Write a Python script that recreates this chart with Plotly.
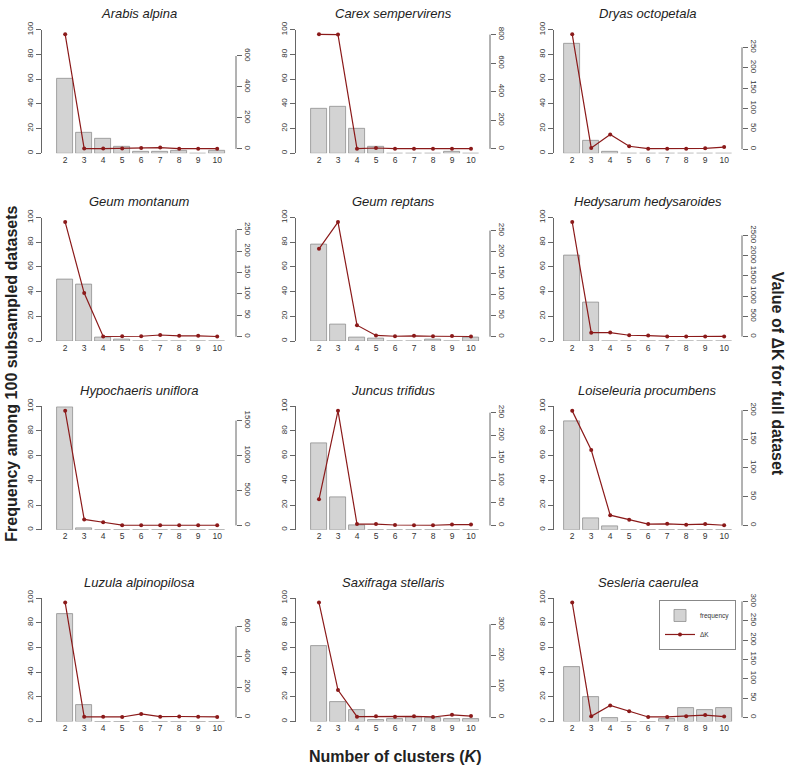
import plotly.graph_objects as go

# number of clusters
K = [2, 3, 4, 5, 6, 7, 8, 9, 10]

species = [
    "Arabis alpina", "Carex sempervirens", "Dryas octopetala",
    "Geum montanum", "Geum reptans", "Hedysarum hedysaroides",
    "Hypochaeris uniflora", "Juncus trifidus", "Loiseleuria procumbens",
    "Luzula alpinopilosa", "Saxifraga stellaris", "Sesleria caerulea",
]

# frequency among 100 subsampled datasets
freq_arabis = [60, 17, 12, 5, 1, 1, 2, 0, 2]
freq_carex = [36, 38, 20, 5, 0, 0, 0, 1, 0]
freq_dryas = [89, 10, 1, 0, 0, 0, 0, 0, 0]
freq_geum_mont = [50, 46, 3, 1, 0, 0, 0, 0, 0]
freq_geum_rept = [78, 13, 3, 2, 0, 0, 1, 0, 3]
freq_hedysarum = [69, 31, 0, 0, 0, 0, 0, 0, 0]
freq_hypochaeris = [99, 1, 0, 0, 0, 0, 0, 0, 0]
freq_juncus = [70, 26, 4, 0, 0, 0, 0, 0, 0]
freq_loiseleuria = [88, 9, 3, 0, 0, 0, 0, 0, 0]
freq_luzula = [87, 13, 0, 0, 0, 0, 0, 0, 0]
freq_saxifraga = [61, 16, 9, 1, 2, 4, 3, 2, 2]
freq_sesleria = [44, 20, 3, 0, 0, 2, 11, 9, 11]

# delta K for the full dataset
dk_arabis = [740, 2, 2, 3, 6, 8, 1, 1, 1]
dk_carex = [802, 800, 1, 6, 1, 1, 1, 1, 1]
dk_dryas = [282, 3, 36, 7, 1, 1, 1, 2, 5]
dk_geum_mont = [268, 102, 0.5, 1, 1, 4, 2, 2, 0.5]
dk_geum_rept = [207, 270, 27, 3, 1, 2, 1, 1.5, 0.5]
dk_hedysarum = [2830, 95, 98, 32, 24, 3, 2, 3, 3]
dk_hypochaeris = [1640, 85, 45, 3, 2, 2, 2, 2, 2]
dk_juncus = [58, 254, 3, 3, 1, 0.5, 0.5, 2, 2]
dk_loiseleuria = [199, 131, 18, 10, 2.5, 3, 1.5, 2.5, 0.5]
dk_luzula = [758, 3, 3, 2, 22, 4, 5, 3, 2]
dk_saxifraga = [370, 88, 2, 3, 2, 3, 1, 8, 4]
dk_sesleria = [297, 3, 31, 16, 1, 1, 3, 6, 2]

freqs = [freq_arabis, freq_carex, freq_dryas, freq_geum_mont, freq_geum_rept,
         freq_hedysarum, freq_hypochaeris, freq_juncus, freq_loiseleuria,
         freq_luzula, freq_saxifraga, freq_sesleria]
dks = [dk_arabis, dk_carex, dk_dryas, dk_geum_mont, dk_geum_rept,
       dk_hedysarum, dk_hypochaeris, dk_juncus, dk_loiseleuria,
       dk_luzula, dk_saxifraga, dk_sesleria]

# tick step of the right-hand (delta K) axis
dk_step = [200, 200, 50, 50, 50, 500, 500, 50, 50, 200, 100, 50]

W, H = 789, 769
FONT = "Liberation Sans, Arial, Helvetica, sans-serif"
BAR_FILL = "#d3d3d3"
BAR_LINE = "#8e8e8e"
LINE_COL = "#8b1a1a"
AX_COL = "#666666"
TXT_COL = "#333333"

row_top = [22, 212, 403, 597]
plot_h = 125
col_x = [(42, 236), (296, 490), (554, 742)]
col_xrange = [(0.78, 10.99), (0.79, 11.0), (1.04, 10.94)]

fig = go.Figure()
annotations = []
shapes = []
layout = {}

for i, name in enumerate(species):
    r, c = divmod(i, 3)
    xi = i + 1
    yp = 2 * i + 1
    ys = 2 * i + 2
    xname = "x" if xi == 1 else f"x{xi}"
    ypname = "y" if yp == 1 else f"y{yp}"
    ysname = f"y{ys}"

    x0, x1 = col_x[c]
    top = row_top[r]
    xdom = [x0 / W, x1 / W]
    ydom = [1 - (top + plot_h) / H, 1 - top / H]

    last = (i == len(species) - 1)

    fig.add_trace(go.Bar(
        x=K, y=freqs[i], xaxis=xname, yaxis=ypname,
        width=1 / 1.2,
        marker=dict(color=BAR_FILL, line=dict(color=BAR_LINE, width=0.8)),
        name="frequency", showlegend=last, legendgroup="freq",
    ))
    fig.add_trace(go.Scatter(
        x=K, y=dks[i], xaxis=xname, yaxis=ysname,
        mode="lines+markers",
        line=dict(color=LINE_COL, width=1.2),
        marker=dict(color=LINE_COL, size=4),
        name="ΔK", showlegend=last, legendgroup="dk",
    ))

    lo, hi = min(dks[i]), max(dks[i])
    pad = 0.04 * (hi - lo)
    dk_range = [lo - pad, hi + pad]
    top_tick = int(dk_range[1] // dk_step[i]) * dk_step[i]

    layout["xaxis" if xi == 1 else f"xaxis{xi}"] = dict(
        domain=xdom, anchor=ypname, range=list(col_xrange[c]),
        tickvals=K, ticktext=[str(k) for k in K], ticks="",
        showline=False, showgrid=False, zeroline=False,
        tickfont=dict(size=8.5, color=TXT_COL, family=FONT),
    )
    layout["yaxis" if yp == 1 else f"yaxis{yp}"] = dict(
        domain=ydom, anchor=xname, range=[0, 100],
        tickvals=[0, 20, 40, 60, 80, 100], tickangle=-90,
        ticks="outside", ticklen=5, tickcolor=AX_COL,
        showline=True, linecolor=AX_COL, linewidth=1,
        showgrid=False, zeroline=False,
        tickfont=dict(size=8, color=TXT_COL, family=FONT),
    )
    layout[f"yaxis{ys}"] = dict(
        overlaying=ypname, anchor=xname, side="right",
        range=dk_range, tick0=0, dtick=dk_step[i], tickangle=90,
        ticks="outside", ticklen=5, tickcolor=AX_COL,
        showline=False, showgrid=False, zeroline=False,
        tickfont=dict(size=8, color=TXT_COL, family=FONT),
    )
    # right axis line only spans the tick range, as in base R graphics
    shapes.append(dict(
        type="line", xref=f"{xname} domain", yref=ysname,
        x0=1, x1=1, y0=0, y1=top_tick,
        line=dict(color=AX_COL, width=1),
    ))
    annotations.append(dict(
        text=f"<i>{name}</i>", x=(xdom[0] + xdom[1]) / 2, y=1 - (top - 16) / H,
        xref="paper", yref="paper", showarrow=False,
        xanchor="center", yanchor="middle",
        font=dict(size=13, color="#222222", family=FONT),
    ))

annotations += [
    dict(text="<b>Frequency among 100 subsampled datasets</b>",
         x=12 / W, y=1 - 370 / H, xref="paper", yref="paper",
         textangle=-90, showarrow=False, xanchor="center", yanchor="middle",
         font=dict(size=16, color="#222222", family=FONT)),
    dict(text="<b>Value of ΔK for full dataset</b>",
         x=777 / W, y=1 - 370 / H, xref="paper", yref="paper",
         textangle=90, showarrow=False, xanchor="center", yanchor="middle",
         font=dict(size=16, color="#222222", family=FONT)),
    dict(text="<b>Number of clusters (<i>K</i>)</b>",
         x=395 / W, y=1 - 757 / H, xref="paper", yref="paper",
         showarrow=False, xanchor="center", yanchor="middle",
         font=dict(size=16, color="#222222", family=FONT)),
]

fig.update_layout(
    width=W, height=H,
    margin=dict(l=0, r=0, t=0, b=0),
    paper_bgcolor="white", plot_bgcolor="white",
    bargap=0,
    annotations=annotations,
    shapes=shapes,
    legend=dict(
        x=736 / W, y=1 - 599 / H, xanchor="right", yanchor="top",
        bordercolor="#888888", borderwidth=1, bgcolor="white",
        font=dict(size=6.5, color=TXT_COL, family=FONT),
        itemwidth=30, tracegroupgap=0,
    ),
    **layout,
)

fig.write_html("out.html", config={"displayModeBar": False},
               post_script="document.body.style.margin='0px';")
